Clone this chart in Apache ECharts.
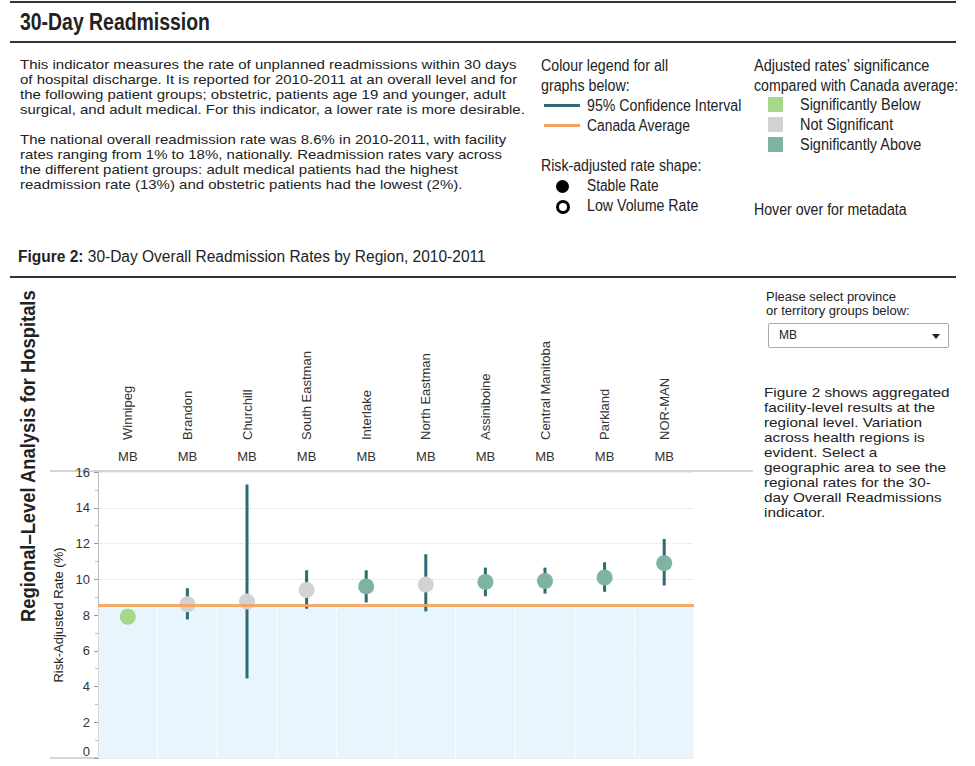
<!DOCTYPE html>
<html>
<head>
<meta charset="utf-8">
<script src="https://cdn.jsdelivr.net/npm/echarts@6/dist/echarts.min.js"></script>
<style>
  html,body{margin:0;padding:0;background:#fff;}
  body{width:975px;height:766px;position:relative;overflow:hidden;font-family:"Liberation Sans",Arial,sans-serif;color:#222;}
  .abs{position:absolute;}
  .fit{display:inline-block;white-space:nowrap;transform-origin:0 0;}
  .rule{position:absolute;left:10px;width:946px;height:2px;background:#333;}
  .p{font-size:13px;line-height:15px;white-space:nowrap;color:#222;}
  .leg{font-size:16px;line-height:20px;white-space:nowrap;color:#222;}
</style>
</head>
<body>
<div class="rule" style="top:1px;"></div>
<div class="abs fit" data-w="190" style="left:20px;top:7px;font-size:23px;font-weight:bold;line-height:30px;">30-Day Readmission</div>
<div class="rule" style="top:41px;"></div>

<div class="abs p fit" data-w="505" style="left:20px;top:57px;">
This indicator measures the rate of unplanned readmissions within 30 days<br>
of hospital discharge. It is reported for 2010-2011 at an overall level and for<br>
the following patient groups; obstetric, patients age 19 and younger, adult<br>
surgical, and adult medical. For this indicator, a lower rate is more desirable.<br>
<br>
The national overall readmission rate was 8.6% in 2010-2011, with facility<br>
rates ranging from 1% to 18%, nationally. Readmission rates vary across<br>
the different patient groups: adult medical patients had the highest<br>
readmission rate (13%) and obstetric patients had the lowest (2%).
</div>

<div class="abs leg fit" data-w="127" style="left:541px;top:56px;">Colour legend for all</div>
<div class="abs leg fit" data-w="89" style="left:541px;top:76px;">graphs below:</div>
<div class="abs" style="left:544px;top:104px;width:36px;height:3px;background:#2d6b73;"></div>
<div class="abs leg fit" data-w="154" style="left:587px;top:96px;">95% Confidence Interval</div>
<div class="abs" style="left:544px;top:124px;width:36px;height:3px;background:#f5a25d;"></div>
<div class="abs leg fit" data-w="103" style="left:587px;top:116px;">Canada Average</div>
<div class="abs leg fit" data-w="160" style="left:541px;top:156px;">Risk-adjusted rate shape:</div>
<div class="abs" style="left:556px;top:180px;width:13px;height:13px;border-radius:50%;background:#000;"></div>
<div class="abs leg fit" data-w="72" style="left:587px;top:176px;">Stable Rate</div>
<div class="abs" style="left:556px;top:200px;width:8px;height:8px;border-radius:50%;border:3px solid #000;"></div>
<div class="abs leg fit" data-w="111" style="left:587px;top:196px;">Low Volume Rate</div>

<div class="abs leg fit" data-w="175" style="left:754px;top:56px;">Adjusted rates’ significance</div>
<div class="abs leg fit" data-w="204" style="left:754px;top:76px;">compared with Canada average:</div>
<div class="abs" style="left:768px;top:97px;width:15px;height:15px;background:#a6d88a;"></div>
<div class="abs leg fit" data-w="120" style="left:800px;top:95px;">Significantly Below</div>
<div class="abs" style="left:768px;top:117px;width:15px;height:15px;background:#d2d2d2;"></div>
<div class="abs leg fit" data-w="93" style="left:800px;top:115px;">Not Significant</div>
<div class="abs" style="left:768px;top:137px;width:15px;height:15px;background:#7fb3a2;"></div>
<div class="abs leg fit" data-w="121" style="left:800px;top:135px;">Significantly Above</div>
<div class="abs leg fit" data-w="153" style="left:754px;top:200px;">Hover over for metadata</div>

<div class="abs fit" data-w="468" style="left:18px;top:247px;font-size:16px;line-height:20px;"><b>Figure 2:</b> 30-Day Overall Readmission Rates by Region, 2010-2011</div>
<div class="rule" style="top:276px;"></div>

<div id="vt" class="abs" style="left:18px;top:622px;font-size:20px;line-height:21px;font-weight:bold;white-space:nowrap;transform-origin:0 0;">Regional–Level Analysis for Hospitals</div>

<div class="abs fit" data-w="144" style="left:766px;top:290px;font-size:12px;line-height:14px;">Please select province<br>or territory groups below:</div>
<div class="abs" style="left:768px;top:323px;width:179px;height:23px;border:1px solid #aaa;border-radius:2px;font-size:12px;line-height:23px;">
  <span style="position:absolute;left:10px;">MB</span>
  <span style="position:absolute;right:8px;top:10px;width:0;height:0;border-left:4px solid transparent;border-right:4px solid transparent;border-top:5px solid #222;"></span>
</div>
<div class="abs fit" data-w="186" style="left:764px;top:385px;font-size:13px;line-height:15px;">
Figure 2 shows aggregated<br>
facility-level results at the<br>
regional level. Variation<br>
across health regions is<br>
evident. Select a<br>
geographic area to see the<br>
regional rates for the 30-<br>
day Overall Readmissions<br>
indicator.
</div>

<div id="chart" class="abs" style="left:0;top:280px;width:760px;height:486px;"></div>

<script>
// ---- data ----
const regions = ['Winnipeg','Brandon','Churchill','South Eastman','Interlake','North Eastman','Assiniboine','Central Manitoba','Parkland','NOR-MAN'];
const province = ['MB','MB','MB','MB','MB','MB','MB','MB','MB','MB'];
const rate     = [7.9, 8.6, 8.75, 9.4, 9.6, 9.7, 9.85, 9.9, 10.1, 10.9];
const ciLow    = [7.75, 7.75, 4.45, 8.35, 8.7, 8.2, 9.05, 9.2, 9.3, 9.65];
const ciHigh   = [8.1, 9.5, 15.3, 10.5, 10.5, 11.4, 10.65, 10.65, 10.95, 12.25];
const significance = ['below','none','none','none','above','none','above','above','above','above'];
const canadaAverage = 8.55;
const yTicks = {min:0, max:16, interval:2};

// fit text widths
document.querySelectorAll('.fit').forEach(el=>{
  const w = el.offsetWidth, t = +el.dataset.w;
  el.style.transform = 'scaleX(' + (t/w) + ')';
});
(function(){
  const el = document.getElementById('vt');
  const s = 332 / el.offsetWidth;
  el.style.transform = 'rotate(-90deg) scaleX(' + s + ')';
})();

const sigColor = {below:'#a6d88a', none:'#d2d2d2', above:'#7fb3a2'};
const fontFam = 'Liberation Sans, Arial, sans-serif';

const chart = echarts.init(document.getElementById('chart'), null, {renderer:'svg'});
chart.setOption({
  animation:false,
  grid:{left:98, top:192, width:596, height:286},
  xAxis:[
    {type:'category', data:regions, position:'top', offset:32,
     axisLine:{show:false}, axisTick:{show:false},
     axisLabel:{rotate:90, margin:0, fontSize:13, color:'#333', fontFamily:fontFam},
     splitLine:{show:false}},
    {type:'category', data:province, position:'top', offset:0, gridIndex:0,
     axisLine:{show:false}, axisTick:{show:false},
     axisLabel:{margin:9, fontSize:13, color:'#333', fontFamily:fontFam}}
  ],
  yAxis:{type:'value', min:yTicks.min, max:yTicks.max, interval:yTicks.interval,
    name:'Risk-Adjusted Rate (%)', nameLocation:'middle', nameGap:33,
    nameTextStyle:{fontSize:13, color:'#222', fontFamily:fontFam},
    axisLine:{show:true, lineStyle:{color:'#bbb'}},
    axisTick:{show:true, length:4, lineStyle:{color:'#999'}},
    minorTick:{show:true, splitNumber:2, length:3, lineStyle:{color:'#bbb'}},
    axisLabel:{fontSize:13, color:'#333', margin:8, fontFamily:fontFam,
      formatter:function(v){ return v === 0 ? '{z|0}' : String(v); },
      rich:{z:{fontSize:13, color:'#333', fontFamily:fontFam, padding:[0,0,14,0]}}},
    splitLine:{show:true, lineStyle:{color:'#ddd', type:'dotted', width:1}}},
  series:[
    {type:'bar', data:regions.map(()=>canadaAverage), barCategoryGap:'1.5%', silent:true,
     itemStyle:{color:'#e9f5fd'}, z:1,
     markLine:{silent:true, symbol:'none', label:{show:false},
       lineStyle:{color:'#f5a25d', width:3, type:'solid', opacity:0.9},
       data:[{yAxis:canadaAverage}]}},
    {type:'custom', z:3,
     data:regions.map((r,i)=>[i, ciLow[i], ciHigh[i]]),
     renderItem:function(params, api){
       const p1 = api.coord([api.value(0), api.value(1)]);
       const p2 = api.coord([api.value(0), api.value(2)]);
       return {type:'line', shape:{x1:p1[0], y1:p1[1], x2:p2[0], y2:p2[1]},
               style:{stroke:'#2d6b73', lineWidth:3}};
     }},
    {type:'scatter', z:4, symbolSize:16,
     data:regions.map((r,i)=>({value:[i, rate[i]], itemStyle:{color:sigColor[significance[i]], opacity:1}}))}
  ],
  graphic:[
    {type:'line', shape:{x1:50, y1:191, x2:753, y2:191}, style:{stroke:'#aaa', lineWidth:1}},
    {type:'line', shape:{x1:50, y1:478, x2:98, y2:478}, style:{stroke:'#aaa', lineWidth:1}}
  ]
});
</script>
</body>
</html>
